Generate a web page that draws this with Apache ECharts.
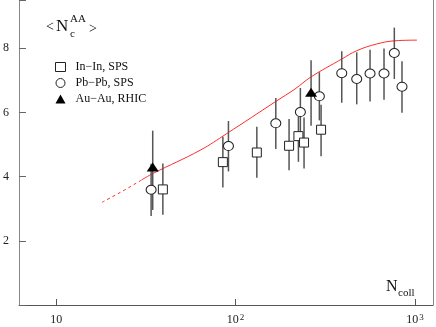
<!DOCTYPE html>
<html>
<head>
<meta charset="utf-8">
<title></title>
<script src="https://cdn.jsdelivr.net/npm/echarts@6/dist/echarts.min.js"></script>
</head>
<body style="margin:0">
<div id="container" style="width:436px;height:327px"></div>
<script>
// In-In, SPS
var inNcoll = [39.3, 84.9, 131.3, 198.6, 223.9, 240.7, 299.5];
var inVal   = [3.60, 4.45, 4.75, 4.96, 5.26, 5.06, 5.46];
var inLo    = [2.81, 3.66, 3.96, 4.20, 4.46, 4.25, 4.63];
var inHi    = [4.41, 5.24, 5.55, 5.79, 6.06, 5.84, 6.24];
// Pb-Pb, SPS
var pbNcoll = [33.8, 91.2, 167.5, 229.6, 293, 390.6, 473.3, 561.6, 671.9, 766.9, 846.3];
var pbVal   = [3.59, 4.95, 5.66, 6.01, 6.50, 7.22, 7.04, 7.21, 7.21, 7.85, 6.80];
var pbLo    = [2.77, 4.16, 4.86, 5.26, 5.75, 6.30, 6.25, 6.34, 6.39, 7.04, 5.99];
var pbHi    = [4.40, 5.73, 6.45, 6.76, 7.25, 7.90, 7.87, 7.95, 7.99, 8.64, 7.59];
// Au-Au, RHIC
var auNcoll = [34.5, 263.4];
var auVal   = [4.30, 6.63];
var auLo    = [2.96, 5.58];
var auHi    = [5.43, 7.62];
// model curve
var curveDashN = [18, 24, 30];
var curveDashV = [3.20, 3.58, 3.90];
var curveN = [30, 34.7, 63.4, 89.3, 167.5, 214.6, 262.4, 390.6, 473, 612, 774, 1026];
var curveV = [3.90, 4.10, 4.82, 5.34, 6.34, 6.73, 7.10, 7.66, 7.92, 8.13, 8.23, 8.25];

var serif = 'Liberation Serif';

function pairs(xs, ys) {
	return xs.map(function (x, i) { return [x, ys[i]]; });
}

function errBars(name, xs, lo, hi) {
	return {
		type: 'custom',
		name: name,
		silent: true,
		z: 2,
		data: xs.map(function (x, i) { return [x, lo[i], hi[i]]; }),
		encode: {x: 0, y: [1, 2]},
		renderItem: function (params, api) {
			var a = api.coord([api.value(0), api.value(1)]);
			var b = api.coord([api.value(0), api.value(2)]);
			return {
				type: 'line',
				shape: {x1: a[0], y1: a[1], x2: b[0], y2: b[1]},
				style: {stroke: '#555', lineWidth: 1.5}
			};
		}
	};
}

var chart = echarts.init(document.getElementById('container'));
var option = {
	animation: false,
	grid: {left: 19, right: 3, top: 0, bottom: 20},
	legend: {
		orient: 'vertical',
		left: 50,
		top: 56,
		itemWidth: 10,
		itemHeight: 9,
		itemGap: 4,
		textStyle: {fontFamily: serif, fontSize: 12, color: '#111', padding: [0, 0, 0, 5]},
		data: [
			{name: 'In\u2212In, SPS', icon: 'rect', itemStyle: {borderWidth: 1}},
			{name: 'Pb\u2212Pb, SPS', icon: 'circle', itemStyle: {borderWidth: 1}},
			{name: 'Au\u2212Au, RHIC', icon: 'triangle'}
		]
	},
	xAxis: {
		type: 'log',
		logBase: 10,
		min: 6.2,
		max: 1260,
		splitLine: {show: false},
		axisLine: {lineStyle: {color: '#555', width: 1}},
		axisTick: {inside: true, length: 6, lineStyle: {color: '#555'}},
		axisLabel: {
			margin: 8,
			showMinLabel: false,
			showMaxLabel: false,
			fontFamily: serif,
			fontSize: 12,
			color: '#222',
			formatter: function (v) {
				var l = Math.log10(v);
				var e = Math.round(l);
				if (Math.abs(l - e) > 1e-6) return '';
				if (e === 1) return '{b|10}';
				return '{b|10}{s|' + e + '}';
			},
			rich: {
				b: {fontFamily: serif, fontSize: 12, color: '#222', verticalAlign: 'bottom', lineHeight: 13},
				s: {fontFamily: serif, fontSize: 9, color: '#222', verticalAlign: 'top', lineHeight: 9, padding: [0, 0, 5, 1]}
			}
		}
	},
	yAxis: [{
		type: 'value',
		min: 0,
		max: 9.5,
		interval: 2,
		splitLine: {show: false},
		axisLine: {show: true, lineStyle: {color: '#888', width: 1}},
		axisTick: {inside: true, length: 7, lineStyle: {color: '#666'}},
		axisLabel: {
			margin: 10,
			fontFamily: serif,
			fontSize: 12,
			color: '#222',
			formatter: function (v) { return (v > 0 && v % 2 === 0) ? String(v) : ''; }
		}
	}, {
		type: 'value',
		position: 'right',
		min: 0,
		max: 9.5,
		splitLine: {show: false},
		axisLine: {show: true, lineStyle: {color: '#888', width: 1}},
		axisTick: {show: false},
		axisLabel: {show: false}
	}],
	graphic: [
		{type: 'text', x: 46, y: 27, style: {text: '<', fontFamily: serif, fontSize: 14, fill: '#111', verticalAlign: 'middle'}},
		{type: 'text', x: 56, y: 27, style: {text: 'N', fontFamily: serif, fontSize: 17, fill: '#111', verticalAlign: 'middle'}},
		{type: 'text', x: 70, y: 19, style: {text: 'AA', fontFamily: serif, fontSize: 11, fill: '#111', verticalAlign: 'middle'}},
		{type: 'text', x: 70, y: 34, style: {text: 'c', fontFamily: serif, fontSize: 11, fill: '#111', verticalAlign: 'middle'}},
		{type: 'text', x: 89, y: 29, style: {text: '>', fontFamily: serif, fontSize: 14, fill: '#111', verticalAlign: 'middle'}},
		{type: 'text', x: 386, y: 287, style: {text: 'N', fontFamily: serif, fontSize: 16, fill: '#111', verticalAlign: 'middle'}},
		{type: 'text', x: 398, y: 293, style: {text: 'coll', fontFamily: serif, fontSize: 11, fill: '#111', verticalAlign: 'middle'}}
	],
	series: [
		{
			type: 'line', name: 'model dashed', data: pairs(curveDashN, curveDashV),
			symbol: 'none', smooth: true, silent: true, z: 1,
			lineStyle: {color: '#ff2a2a', width: 1, type: [3, 3]}
		},
		{
			type: 'line', name: 'model', data: pairs(curveN, curveV),
			symbol: 'none', smooth: 0.4, silent: true, z: 1,
			lineStyle: {color: '#ff2a2a', width: 1}
		},
		errBars('err in', inNcoll, inLo, inHi),
		errBars('err pb', pbNcoll, pbLo, pbHi),
		errBars('err au', auNcoll, auLo, auHi),
		{
			type: 'scatter', name: 'In\u2212In, SPS', data: pairs(inNcoll, inVal),
			symbol: 'rect', symbolSize: 9, z: 5,
			itemStyle: {color: '#fff', borderColor: '#222', borderWidth: 1, opacity: 1}
		},
		{
			type: 'scatter', name: 'Pb\u2212Pb, SPS', data: pairs(pbNcoll, pbVal),
			symbol: 'circle', symbolSize: [10, 9], z: 5,
			itemStyle: {color: '#fff', borderColor: '#222', borderWidth: 1, opacity: 1}
		},
		{
			type: 'scatter', name: 'Au\u2212Au, RHIC', data: pairs(auNcoll, auVal),
			symbol: 'triangle', symbolSize: [12, 9], z: 5,
			itemStyle: {color: '#000', opacity: 1}
		}
	]
};
chart.setOption(option);
</script>
</body>
</html>
